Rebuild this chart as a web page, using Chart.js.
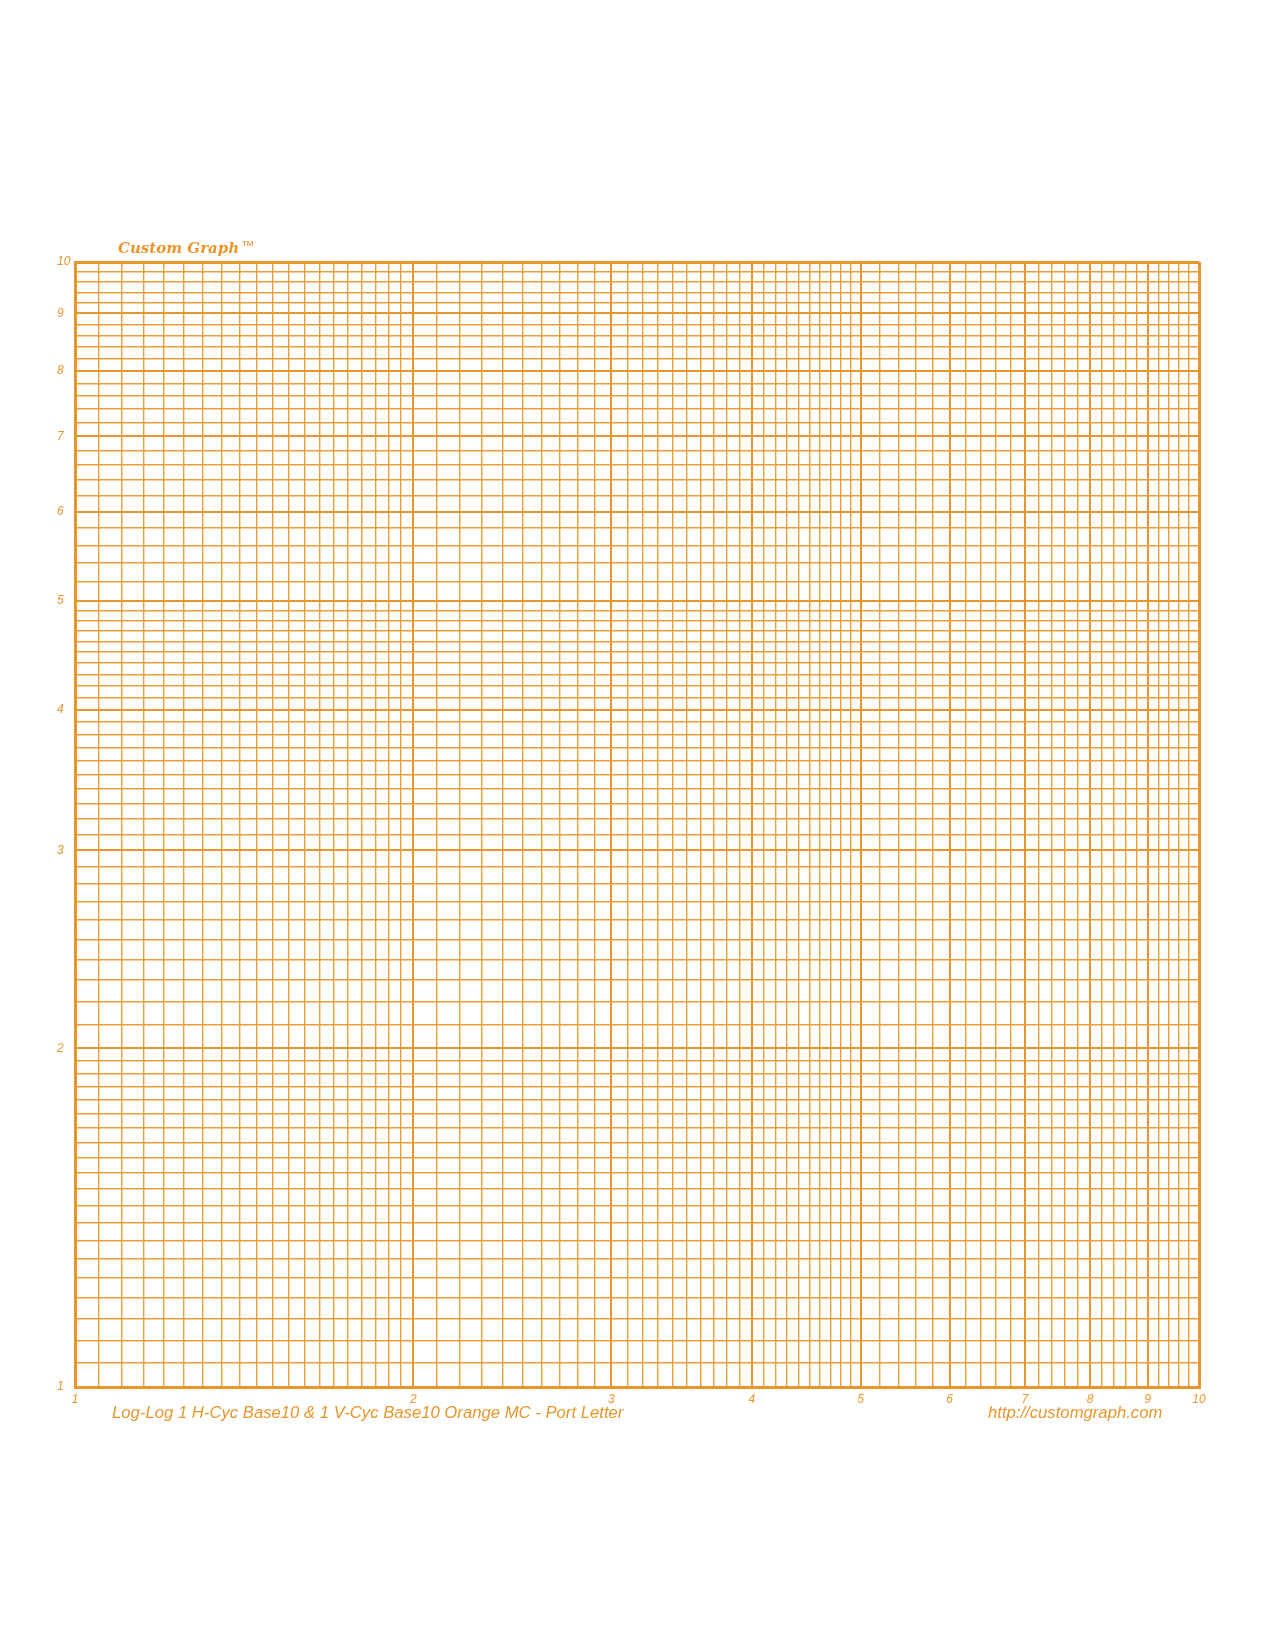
<!DOCTYPE html>
<html>
<head>
<meta charset="utf-8">
<script src="https://cdn.jsdelivr.net/npm/chart.js@4.4.1/dist/chart.umd.min.js"></script>
<style>
  html, body { margin: 0; padding: 0; background: #ffffff; }
  #wrap { position: relative; width: 1275px; height: 1650px; }
  canvas { position: absolute; left: 0; top: 0; }
  .txt { position: absolute; color: #E8952B; white-space: nowrap; }
  #brand { left: 118px; top: 239px; font-family: "DejaVu Serif", serif; font-weight: bold; font-style: italic; font-size: 15px; }
  #brand span { font-family: "Liberation Sans", sans-serif; font-weight: normal; font-style: italic; font-size: 13px; position: relative; top: -3px; margin-left: 2px; }
  #foot1 { left: 112px; top: 1403px; font-family: "Liberation Sans", Arial, sans-serif; font-style: italic; font-size: 16.7px; }
  #foot2 { left: 988px; top: 1403px; font-family: "Liberation Sans", Arial, sans-serif; font-style: italic; font-size: 16.7px; }
</style>
</head>
<body>
<div id="wrap">
  <canvas id="c" width="1275" height="1650"></canvas>
  <div class="txt" id="brand">Custom Graph<span>™</span></div>
  <div class="txt" id="foot1">Log-Log 1 H-Cyc Base10 &amp; 1 V-Cyc Base10 Orange MC - Port Letter</div>
  <div class="txt" id="foot2">http://customgraph.com</div>
</div>
<script>
// Grid line values (log paper rulings)
const rulings1to2 = [1, 1.05, 1.1, 1.15, 1.2, 1.25, 1.3, 1.35, 1.4, 1.45, 1.5, 1.55, 1.6, 1.65, 1.7, 1.75, 1.8, 1.85, 1.9, 1.95, 2];
const rulings2to5 = [2.1, 2.2, 2.3, 2.4, 2.5, 2.6, 2.7, 2.8, 2.9, 3, 3.1, 3.2, 3.3, 3.4, 3.5, 3.6, 3.7, 3.8, 3.9, 4, 4.1, 4.2, 4.3, 4.4, 4.5, 4.6, 4.7, 4.8, 4.9, 5];
const rulings5to10 = [5.2, 5.4, 5.6, 5.8, 6, 6.2, 6.4, 6.6, 6.8, 7, 7.2, 7.4, 7.6, 7.8, 8, 8.2, 8.4, 8.6, 8.8, 9, 9.2, 9.4, 9.6, 9.8, 10];
const tickLabels = [1, 2, 3, 4, 5, 6, 7, 8, 9, 10];

const allRulings = rulings1to2.concat(rulings2to5, rulings5to10);
const ORANGE = '#E8952B';
const ORANGE_MINOR = '#EB9D38';

function isLabel(v) { return tickLabels.some(t => Math.abs(t - v) < 1e-9); }

function gridWidth(ctx) {
  const v = ctx.tick ? ctx.tick.value : null;
  if (v === null) return 1;
  if (Math.abs(v - 1) < 1e-9 || Math.abs(v - 10) < 1e-9) return 3;
  if (isLabel(v)) return 2;
  return 1.4;
}
function gridColor(ctx) {
  const v = ctx.tick ? ctx.tick.value : null;
  if (v !== null && isLabel(v)) return ORANGE;
  return ORANGE_MINOR;
}

function axis(isX) {
  return {
    type: 'logarithmic',
    min: 1,
    max: 10,
    position: isX ? 'bottom' : 'left',
    afterBuildTicks: (scale) => {
      scale.ticks = allRulings.map(v => ({ value: v, major: isLabel(v) }));
    },
    afterFit: (scale) => {
      if (isX) scale.height = 25; else scale.width = 18;
    },
    border: { display: true, color: ORANGE, width: 3 },
    grid: {
      drawTicks: false,
      color: gridColor,
      lineWidth: gridWidth
    },
    ticks: {
      autoSkip: false,
      maxRotation: 0,
      minRotation: 0,
      padding: 5,
      crossAlign: isX ? 'near' : 'far',
      color: ORANGE,
      font: { family: 'Liberation Sans', size: 12, style: 'italic' },
      callback: (value) => isLabel(value) ? String(Math.round(value)) : ''
    }
  };
}

new Chart(document.getElementById('c'), {
  type: 'scatter',
  data: { datasets: [{ data: [], showLine: false }] },
  options: {
    responsive: false,
    animation: false,
    devicePixelRatio: 1,
    layout: { padding: { left: 57, right: 76, top: 262, bottom: 238 } },
    plugins: { legend: { display: false }, tooltip: { enabled: false }, title: { display: false } },
    scales: { x: axis(true), y: axis(false) }
  }
});
</script>
</body>
</html>
